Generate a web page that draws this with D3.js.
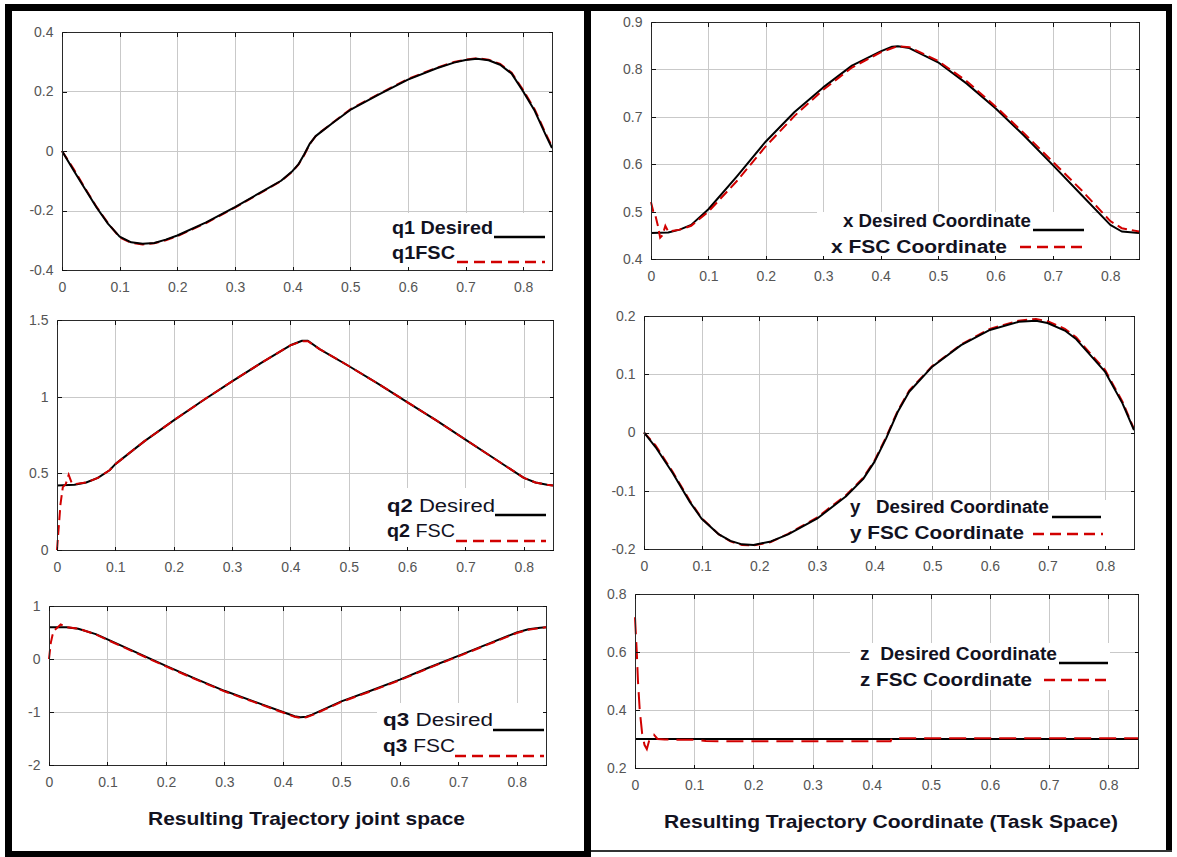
<!DOCTYPE html>
<meta charset="utf-8">
<style>
  body { margin: 0; background: #fff; }
  svg { display: block; }
  .grid line { stroke: #c9c9c9; stroke-width: 1; shape-rendering: crispEdges; }
  .frame { fill: none; stroke: #2a2a2a; stroke-width: 1; shape-rendering: crispEdges; }
  .axis .domain { display: none; }
  .axis line { stroke: #111; shape-rendering: crispEdges; }
  .axis text { fill: #555; font-family: "Liberation Sans", Arial, sans-serif; font-size: 14px; }
  .desired { fill: none; stroke: #000; stroke-width: 2; stroke-linejoin: round; }
  .fsc { fill: none; stroke: #d10000; stroke-width: 2; stroke-dasharray: 10, 5; }
  .legend text { font-family: "Liberation Sans", Arial, sans-serif; font-size: 18px; fill: #12121f; }
  .caption { font-family: "Liberation Sans", Arial, sans-serif; font-size: 19px; font-weight: bold; fill: #12121f; }
</style>

<body>
  <script src="https://cdn.jsdelivr.net/npm/d3@7"></script>
  <script>

    var width = 1177,
      height = 857;

    // shared time axis
    var xTicks = [0, 0.1, 0.2, 0.3, 0.4, 0.5, 0.6, 0.7, 0.8];
    var tEnd = 0.85;

    // q1
    var tQ1 = [0, 0.02, 0.04, 0.06, 0.08, 0.10, 0.12, 0.14, 0.16, 0.18, 0.20, 0.25, 0.30, 0.35, 0.38, 0.40, 0.41, 0.42, 0.43, 0.44, 0.45, 0.47, 0.50, 0.55, 0.60, 0.65, 0.68, 0.70, 0.72, 0.74, 0.76, 0.78, 0.80, 0.82, 0.84, 0.85];
    var q1Desired = [0, -0.065, -0.128, -0.19, -0.245, -0.288, -0.307, -0.312, -0.309, -0.298, -0.284, -0.24, -0.189, -0.133, -0.1, -0.067, -0.045, -0.012, 0.025, 0.05, 0.065, 0.095, 0.138, 0.19, 0.24, 0.278, 0.297, 0.306, 0.31, 0.305, 0.29, 0.26, 0.2, 0.135, 0.05, 0.01];
    var q1Fsc = [0, -0.06, -0.125, -0.188, -0.243, -0.29, -0.309, -0.314, -0.31, -0.3, -0.286, -0.242, -0.19, -0.135, -0.101, -0.069, -0.046, -0.014, 0.024, 0.05, 0.066, 0.096, 0.14, 0.192, 0.242, 0.28, 0.299, 0.307, 0.312, 0.307, 0.293, 0.263, 0.205, 0.14, 0.055, 0.015];

    // q2
    var tQ2 = [0, 0.03, 0.05, 0.07, 0.09, 0.10, 0.15, 0.20, 0.25, 0.30, 0.35, 0.40, 0.42, 0.43, 0.45, 0.50, 0.55, 0.60, 0.65, 0.70, 0.75, 0.80, 0.82, 0.84, 0.85];
    var q2Desired = [0.42, 0.425, 0.44, 0.47, 0.52, 0.56, 0.71, 0.845, 0.975, 1.1, 1.22, 1.335, 1.365, 1.365, 1.31, 1.2, 1.085, 0.965, 0.845, 0.72, 0.595, 0.47, 0.44, 0.425, 0.42];
    var tQ2Fsc = [0, 0.003, 0.006, 0.01, 0.015, 0.02, 0.025, 0.03, 0.05, 0.07, 0.09, 0.10, 0.15, 0.20, 0.25, 0.30, 0.35, 0.40, 0.42, 0.43, 0.45, 0.50, 0.55, 0.60, 0.65, 0.70, 0.75, 0.80, 0.82, 0.84, 0.85];
    var q2Fsc = [0, 0.15, 0.3, 0.41, 0.43, 0.49, 0.44, 0.43, 0.44, 0.47, 0.52, 0.56, 0.71, 0.845, 0.975, 1.1, 1.22, 1.335, 1.362, 1.362, 1.31, 1.2, 1.085, 0.965, 0.845, 0.72, 0.595, 0.47, 0.44, 0.425, 0.42];

    // q3
    var tQ3 = [0, 0.03, 0.05, 0.08, 0.10, 0.15, 0.20, 0.25, 0.30, 0.35, 0.40, 0.42, 0.43, 0.44, 0.45, 0.50, 0.55, 0.60, 0.65, 0.70, 0.75, 0.80, 0.82, 0.84, 0.85];
    var q3Desired = [0.6, 0.6, 0.57, 0.47, 0.37, 0.12, -0.13, -0.37, -0.6, -0.8, -1.0, -1.08, -1.1, -1.09, -1.05, -0.8, -0.6, -0.39, -0.16, 0.06, 0.28, 0.5, 0.56, 0.59, 0.6];
    var tQ3Fsc = [0, 0.003, 0.006, 0.01, 0.015, 0.02, 0.03, 0.05, 0.08, 0.10, 0.15, 0.20, 0.25, 0.30, 0.35, 0.40, 0.42, 0.43, 0.44, 0.45, 0.50, 0.55, 0.60, 0.65, 0.70, 0.75, 0.80, 0.82, 0.84, 0.85];
    var q3Fsc = [0, 0.3, 0.45, 0.55, 0.6, 0.65, 0.6, 0.575, 0.465, 0.36, 0.11, -0.14, -0.38, -0.61, -0.81, -1.01, -1.09, -1.11, -1.1, -1.06, -0.81, -0.61, -0.4, -0.17, 0.05, 0.27, 0.49, 0.55, 0.585, 0.6];

    // x coordinate
    var tX = [0, 0.03, 0.05, 0.07, 0.10, 0.15, 0.20, 0.25, 0.30, 0.35, 0.40, 0.42, 0.43, 0.45, 0.50, 0.55, 0.60, 0.65, 0.70, 0.75, 0.80, 0.82, 0.85];
    var xDesired = [0.455, 0.456, 0.462, 0.472, 0.505, 0.575, 0.648, 0.71, 0.762, 0.808, 0.838, 0.848, 0.849, 0.845, 0.815, 0.77, 0.718, 0.66, 0.598, 0.535, 0.472, 0.458, 0.455];
    var tXFsc = [0, 0.004, 0.008, 0.012, 0.016, 0.02, 0.025, 0.03, 0.05, 0.07, 0.10, 0.15, 0.20, 0.25, 0.30, 0.35, 0.40, 0.43, 0.45, 0.50, 0.55, 0.60, 0.65, 0.70, 0.75, 0.80, 0.82, 0.85];
    var xFsc = [0.52, 0.5, 0.49, 0.47, 0.445, 0.45, 0.47, 0.458, 0.462, 0.47, 0.5, 0.565, 0.638, 0.702, 0.757, 0.804, 0.836, 0.849, 0.847, 0.818, 0.775, 0.722, 0.665, 0.605, 0.545, 0.48, 0.465, 0.458];

    // y coordinate
    var tY = [0, 0.02, 0.05, 0.08, 0.10, 0.13, 0.15, 0.17, 0.19, 0.22, 0.25, 0.30, 0.35, 0.38, 0.40, 0.42, 0.44, 0.46, 0.50, 0.55, 0.60, 0.65, 0.68, 0.70, 0.73, 0.75, 0.80, 0.83, 0.85];
    var yDesired = [0, -0.025, -0.07, -0.12, -0.148, -0.175, -0.186, -0.192, -0.193, -0.187, -0.175, -0.148, -0.11, -0.08, -0.05, -0.01, 0.035, 0.07, 0.113, 0.15, 0.176, 0.19, 0.192, 0.188, 0.175, 0.16, 0.104, 0.05, 0.004];
    var yFsc = [0, -0.022, -0.068, -0.118, -0.147, -0.175, -0.187, -0.193, -0.194, -0.188, -0.174, -0.146, -0.108, -0.078, -0.048, -0.008, 0.037, 0.072, 0.114, 0.151, 0.178, 0.192, 0.195, 0.191, 0.178, 0.163, 0.107, 0.053, 0.006];

    // z coordinate
    var tZ = [0, 0.85];
    var zDesired = [0.3, 0.3];
    var tZFsc = [0, 0.003, 0.005, 0.008, 0.012, 0.016, 0.02, 0.026, 0.032, 0.038, 0.05, 0.10, 0.12, 0.15, 0.432, 0.434, 0.85];
    var zFsc = [0.72, 0.6, 0.5, 0.4, 0.32, 0.28, 0.265, 0.31, 0.315, 0.3, 0.298, 0.297, 0.293, 0.292, 0.292, 0.303, 0.303];

    var panels = [
      { box: [62, 32, 552, 270], yDomain: [-0.4, 0.4], yTicks: [-0.4, -0.2, 0, 0.2, 0.4],
        t: tQ1, des: q1Desired, tf: tQ1, fsc: q1Fsc, fscUnder: true,
        clear: [380, 213, 552, 270],
        legend: [
          { x: 392, y: 234, w: 101, parts: [["q1", "bold"], [" Desired", "bold"]], kind: "solid", x1: 494, x2: 545, ly: 237 },
          { x: 392, y: 259, w: 63, parts: [["q1", "bold"], ["FSC", "bold"]], kind: "dash", x1: 457, x2: 545, ly: 262 }
        ] },
      { box: [57, 320, 553, 550], yDomain: [0, 1.5], yTicks: [0, 0.5, 1, 1.5],
        t: tQ2, des: q2Desired, tf: tQ2Fsc, fsc: q2Fsc,
        clear: [380, 488, 553, 550],
        legend: [
          { x: 387, y: 512, w: 108, parts: [["q2", "bold"], [" Desired", "normal"]], kind: "solid", x1: 495, x2: 546, ly: 515 },
          { x: 387, y: 537, w: 68, parts: [["q2", "bold"], [" FSC", "normal"]], kind: "dash", x1: 456, x2: 546, ly: 541 }
        ] },
      { box: [49, 606, 546, 765], yDomain: [-2, 1], yTicks: [-2, -1, 0, 1],
        t: tQ3, des: q3Desired, tf: tQ3Fsc, fsc: q3Fsc,
        clear: [377, 703, 546, 765],
        legend: [
          { x: 383, y: 726, w: 110, parts: [["q3", "bold"], [" Desired", "normal"]], kind: "solid", x1: 493, x2: 544, ly: 730 },
          { x: 383, y: 752, w: 72, parts: [["q3", "bold"], [" FSC", "normal"]], kind: "dash", x1: 455, x2: 544, ly: 756 }
        ] },
      { box: [651, 22, 1139, 259], yDomain: [0.4, 0.9], yTicks: [0.4, 0.5, 0.6, 0.7, 0.8, 0.9],
        t: tX, des: xDesired, tf: tXFsc, fsc: xFsc,
        clear: [817, 212, 1092, 259],
        legend: [
          { x: 843, y: 227, w: 188, parts: [["x", "bold"], [" Desired Coordinate", "bold"]], kind: "solid", x1: 1033, x2: 1084, ly: 230 },
          { x: 831, y: 253, w: 176, parts: [["x", "bold"], [" FSC Coordinate", "bold"]], kind: "dash", x1: 1020, x2: 1088, ly: 247 }
        ] },
      { box: [644, 316, 1134, 549], yDomain: [-0.2, 0.2], yTicks: [-0.2, -0.1, 0, 0.1, 0.2],
        t: tY, des: yDesired, tf: tY, fsc: yFsc, fscUnder: true,
        clear: [847, 500, 1115, 549],
        legend: [
          { x: 850, y: 513, w: 199, parts: [["y", "bold"], ["   Desired Coordinate", "bold"]], kind: "solid", x1: 1052, x2: 1101, ly: 517 },
          { x: 850, y: 539, w: 174, parts: [["y", "bold"], [" FSC Coordinate", "bold"]], kind: "dash", x1: 1033, x2: 1103, ly: 534 }
        ] },
      { box: [635, 594, 1138, 768], yDomain: [0.2, 0.8], yTicks: [0.2, 0.4, 0.6, 0.8],
        t: tZ, des: zDesired, tf: tZFsc, fsc: zFsc, dash: "17, 8",
        clear: [850, 643, 1110, 690],
        legend: [
          { x: 860, y: 660, w: 197, parts: [["z", "bold"], ["  Desired Coordinate", "bold"]], kind: "solid", x1: 1059, x2: 1108, ly: 663 },
          { x: 860, y: 686, w: 172, parts: [["z", "bold"], [" FSC Coordinate", "bold"]], kind: "dash", x1: 1044, x2: 1110, ly: 680 }
        ] }
    ];

    var svg = d3.select("body").append("svg")
      .attr("width", width)
      .attr("height", height);

    svg.append("rect").attr("width", width).attr("height", height).attr("fill", "#fff");

    panels.forEach(drawPanel);

    function drawPanel(p) {
      var x = d3.scaleLinear().domain([0, tEnd]).range([p.box[0], p.box[2]]);
      var y = d3.scaleLinear().domain(p.yDomain).range([p.box[3], p.box[1]]);
      var g = svg.append("g");

      var grid = g.append("g").attr("class", "grid");
      grid.selectAll(".v").data(xTicks.slice(1)).enter().append("line")
        .attr("x1", function (d) { return Math.round(x(d)) + 0.5; })
        .attr("x2", function (d) { return Math.round(x(d)) + 0.5; })
        .attr("y1", p.box[1]).attr("y2", p.box[3]);
      grid.selectAll(".h").data(p.yTicks.slice(1, -1)).enter().append("line")
        .attr("y1", function (d) { return Math.round(y(d)) + 0.5; })
        .attr("y2", function (d) { return Math.round(y(d)) + 0.5; })
        .attr("x1", p.box[0]).attr("x2", p.box[2]);

      // legend area hides the grid
      g.append("rect")
        .attr("x", p.clear[0]).attr("y", p.clear[1])
        .attr("width", p.clear[2] - p.clear[0]).attr("height", p.clear[3] - p.clear[1])
        .attr("fill", "#fff");

      var line = d3.line()
        .x(function (d) { return x(d[0]); })
        .y(function (d) { return y(d[1]); });

      var desData = d3.zip(p.t, p.des),
        fscData = d3.zip(p.tf, p.fsc);

      function addFsc() {
        g.append("path").datum(fscData).attr("class", "fsc")
          .style("stroke-dasharray", p.dash || null)
          .attr("d", line);
      }
      if (p.fscUnder) addFsc();
      g.append("path").datum(desData).attr("class", "desired").attr("d", line);
      if (!p.fscUnder) addFsc();

      g.append("rect").attr("class", "frame")
        .attr("x", p.box[0] + 0.5).attr("y", p.box[1] + 0.5)
        .attr("width", p.box[2] - p.box[0]).attr("height", p.box[3] - p.box[1]);

      var fmt = function (d) { return String(d); };

      g.append("g").attr("class", "axis")
        .attr("transform", "translate(0," + (p.box[3] + 0.5) + ")")
        .call(d3.axisBottom(x).tickValues(xTicks).tickFormat(fmt).tickSizeInner(-4).tickSizeOuter(0).tickPadding(12));
      g.append("g").attr("class", "axis")
        .attr("transform", "translate(0," + (p.box[1] + 0.5) + ")")
        .call(d3.axisTop(x).tickValues(xTicks).tickFormat("").tickSizeInner(-4).tickSizeOuter(0));
      g.append("g").attr("class", "axis")
        .attr("transform", "translate(" + (p.box[0] + 0.5) + ",0)")
        .call(d3.axisLeft(y).tickValues(p.yTicks).tickFormat(fmt).tickSizeInner(-4).tickSizeOuter(0).tickPadding(9));
      g.append("g").attr("class", "axis")
        .attr("transform", "translate(" + (p.box[2] + 0.5) + ",0)")
        .call(d3.axisRight(y).tickValues(p.yTicks).tickFormat("").tickSizeInner(-4).tickSizeOuter(0));
      g.selectAll(".axis").attr("font-family", null).attr("font-size", null);

      var leg = g.append("g").attr("class", "legend");
      p.legend.forEach(function (e) {
        var txt = leg.append("text").attr("x", e.x).attr("y", e.y)
          .attr("xml:space", "preserve")
          .attr("textLength", e.w)
          .attr("lengthAdjust", "spacingAndGlyphs");
        e.parts.forEach(function (part) {
          txt.append("tspan").attr("font-weight", part[1]).text(part[0]);
        });
        leg.append("line")
          .attr("x1", e.x1).attr("x2", e.x2).attr("y1", e.ly).attr("y2", e.ly)
          .attr("stroke", e.kind === "solid" ? "#000" : "#d10000")
          .attr("stroke-width", 2.5)
          .attr("stroke-dasharray", e.kind === "solid" ? null : "11,6");
      });
    }

    svg.append("text").attr("class", "caption")
      .attr("x", 148).attr("y", 825)
      .attr("textLength", 317).attr("lengthAdjust", "spacingAndGlyphs")
      .text("Resulting Trajectory joint space");
    svg.append("text").attr("class", "caption")
      .attr("x", 664).attr("y", 828)
      .attr("textLength", 454).attr("lengthAdjust", "spacingAndGlyphs")
      .text("Resulting Trajectory Coordinate (Task Space)");

    // page frame
    var frame = svg.append("g").attr("fill", "#000");
    frame.append("rect").attr("x", 5).attr("y", 4).attr("width", 1167).attr("height", 7);
    frame.append("rect").attr("x", 5).attr("y", 4).attr("width", 7).attr("height", 853);
    frame.append("rect").attr("x", 584).attr("y", 4).attr("width", 7).attr("height", 853);
    frame.append("rect").attr("x", 1166).attr("y", 4).attr("width", 6).attr("height", 848);
    frame.append("rect").attr("x", 5).attr("y", 851).attr("width", 586).attr("height", 6);
    frame.append("rect").attr("x", 591).attr("y", 850).attr("width", 581).attr("height", 2).attr("fill", "#333");

  </script>
